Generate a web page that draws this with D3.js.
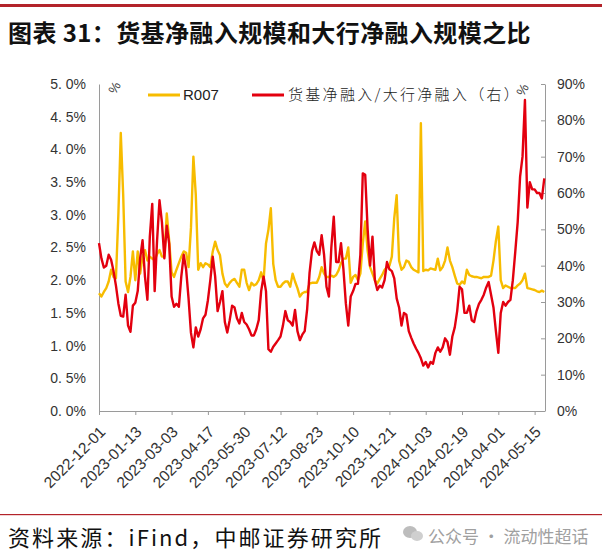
<!DOCTYPE html>
<html><head><meta charset="utf-8">
<script src="https://cdn.jsdelivr.net/npm/d3@7"></script>
<style>
html,body{margin:0;padding:0;background:#fff;}
svg{display:block;}
</style></head>
<body>
<script>
// ---- data (one value every 2 trading days, 2022-12-01 .. 2024-05-28) ----
const tickLabels = ["2022-12-01","2023-01-13","2023-03-03","2023-04-17","2023-05-30","2023-07-12","2023-08-23","2023-10-10","2023-11-21","2024-01-03","2024-02-19","2024-04-01","2024-05-15"];
const tickStep = 15; // index distance between labelled dates
const r007 = [1.80,1.75,1.82,1.88,1.98,2.16,2.05,2.03,3.00,4.25,3.30,1.98,1.82,2.05,2.44,2.00,2.44,2.10,2.36,2.46,
2.30,2.36,2.33,2.31,2.40,2.46,2.36,2.36,3.02,2.60,2.12,2.05,2.16,2.26,2.36,2.44,2.42,2.20,2.80,3.89,
3.30,2.16,2.26,2.20,2.26,2.24,2.20,2.44,2.59,2.46,2.38,2.10,1.95,1.90,1.96,2.00,2.02,1.96,1.90,2.16,
2.16,1.96,1.85,1.96,1.92,1.94,2.00,2.12,1.98,2.56,2.77,3.10,2.25,2.00,1.90,1.90,1.95,1.98,1.98,1.90,
2.10,1.98,1.88,1.75,1.80,1.82,1.82,1.95,1.96,1.96,1.96,2.05,2.20,2.10,2.05,2.05,2.07,2.05,2.08,2.15,
2.26,2.33,2.33,2.50,1.96,2.05,2.08,2.00,2.10,2.56,2.90,2.45,2.20,2.10,2.00,1.95,2.02,2.08,2.16,2.20,
2.22,2.36,2.95,3.30,2.30,2.16,2.20,2.30,2.28,2.20,2.16,2.14,2.12,4.40,2.14,2.16,2.15,2.18,2.17,2.16,
2.33,2.15,2.20,2.30,2.50,2.30,2.20,2.07,1.95,1.93,1.98,1.95,2.16,2.08,2.06,2.05,2.05,2.04,2.03,2.05,
2.05,2.05,2.07,2.30,2.60,2.82,2.00,1.88,1.92,1.90,1.88,1.88,1.88,1.92,1.95,2.00,2.10,1.88,1.87,1.86,
1.85,1.83,1.82,1.84,1.82];
const ratio = [46.2,42.0,39.5,40.0,43.0,41.6,38.5,34.5,29.6,26.2,26.0,32.0,23.5,21.8,29.0,29.8,33.0,42.0,47.0,37.0,
30.6,48.0,57.0,33.0,47.0,58.0,52.0,42.0,51.0,46.0,31.5,28.7,29.5,28.7,37.0,43.0,39.0,31.0,21.5,17.5,
23.0,20.5,22.5,25.5,26.5,30.5,36.0,42.5,37.0,27.5,30.0,33.0,24.5,21.6,25.0,29.0,28.5,25.5,24.1,27.0,
24.5,23.8,22.5,20.8,20.8,22.5,25.0,33.0,37.0,33.0,17.0,16.3,17.7,18.6,19.5,20.5,23.5,27.5,25.0,24.5,
23.5,27.8,22.0,19.5,21.0,22.0,28.0,38.0,44.0,46.4,44.0,43.0,48.4,43.0,34.2,31.5,45.0,53.5,41.0,41.0,
46.2,39.0,29.6,23.5,31.5,33.0,35.0,35.0,43.0,65.4,65.0,50.0,40.0,48.0,36.0,33.3,34.5,34.0,36.0,41.0,
39.0,38.5,36.5,31.0,28.5,23.5,27.0,26.5,22.0,20.2,18.6,17.2,16.0,14.5,12.5,13.5,12.0,13.5,13.0,16.0,
17.5,16.3,17.5,20.0,19.0,15.5,20.5,23.0,27.5,34.2,33.5,27.0,27.0,29.0,25.0,24.5,27.5,29.5,30.6,32.0,
34.0,35.5,32.0,28.5,22.0,16.0,27.0,30.0,29.0,30.0,30.6,36.0,43.8,52.0,64.5,70.0,85.6,56.0,63.0,61.0,
61.0,60.0,60.0,58.5,64.0];
const leftTicks = [0,0.5,1,1.5,2,2.5,3,3.5,4,4.5,5];
const rightTicks = [0,10,20,30,40,50,60,70,80,90];
const seriesNames = ["R007","货基净融入/大行净融入（右）"];
const title = "图表 31：货基净融入规模和大行净融入规模之比";
const source = "资料来源：iFind，中邮证券研究所";
const watermark = "公众号 · 流动性超话";

// ---- layout ----
const W = 602, H = 559;
const L = 99, R = 545, T = 84, B = 411;
const YELLOW = "#F7BC00", RED = "#E3000F", AXIS = "#9a9a9a", TXT = "#333";

const svg = d3.select("body").append("svg").attr("width", W).attr("height", H)
  .style("font-family", "Arial, 'Liberation Sans', sans-serif");
svg.append("rect").attr("width", W).attr("height", H).attr("fill", "#fff");

// header / footer rules
svg.append("rect").attr("x", 0).attr("y", 4).attr("width", W).attr("height", 3).attr("fill", "#B3232A");
svg.append("rect").attr("x", 0).attr("y", 514).attr("width", W).attr("height", 1.2).attr("fill", "#B3232A");

svg.append("text").attr("x", 8).attr("y", 42).text(title)
  .attr("font-family", "'Noto Sans CJK SC'").attr("font-weight", 700)
  .attr("font-size", 24).attr("letter-spacing", 0.4).attr("fill", "#111");

svg.append("text").attr("x", 8).attr("y", 546).text(source)
  .attr("font-family", "'Noto Sans CJK SC'").attr("font-size", 22).attr("letter-spacing", 2.1).attr("fill", "#111");

// watermark
const wm = svg.append("g").attr("transform", "translate(410,538)");
wm.append("ellipse").attr("cx", 0).attr("cy", -6).attr("rx", 7).attr("ry", 6).attr("fill", "#bdbdbd");
wm.append("ellipse").attr("cx", 7).attr("cy", -2).attr("rx", 6).attr("ry", 5).attr("fill", "#cfcfcf");
wm.append("text").attr("x", 18).attr("y", 5).text(watermark)
  .attr("font-family", "'Noto Sans CJK SC'").attr("font-size", 17).attr("fill", "#a0a0a0");

// scales
const n = r007.length;
const x = d3.scaleLinear().domain([0, n - 1]).range([L, R - 0.7]);
const yL = d3.scaleLinear().domain([0, 5]).range([B, T]);
const yR = d3.scaleLinear().domain([0, 90]).range([B, T]);

// left axis
const gl = svg.append("g").attr("transform", `translate(${L},0)`)
  .call(d3.axisLeft(yL).tickValues(leftTicks).tickSize(0).tickPadding(13)
    .tickFormat(d => d.toFixed(1).replace(".", ". ") + "%"));
gl.select(".domain").attr("stroke", AXIS);
gl.selectAll("text").attr("font-size", 14).attr("fill", TXT).attr("font-family", "Arial, 'Liberation Sans'");

// right axis
const gr = svg.append("g").attr("transform", `translate(${R},0)`)
  .call(d3.axisRight(yR).tickValues(rightTicks).tickSizeInner(-4).tickSizeOuter(0).tickPadding(12)
    .tickFormat(d => d + "%"));
gr.select(".domain").attr("stroke", AXIS);
gr.selectAll("line").attr("stroke", AXIS);
gr.selectAll("text").attr("font-size", 14).attr("fill", TXT).attr("font-family", "Arial, 'Liberation Sans'");

// bottom axis
const tickIdx = tickLabels.map((_, i) => i * tickStep);
const gb = svg.append("g").attr("transform", `translate(0,${B})`)
  .call(d3.axisBottom(x).tickValues(tickIdx).tickSizeInner(4).tickSizeOuter(0)
    .tickFormat((d, i) => tickLabels[i]));
gb.select(".domain").attr("stroke", AXIS).attr("d", `M${L},0.5H${R}`);
gb.selectAll("line").attr("stroke", AXIS);
gb.selectAll("text").attr("font-size", 15.5).attr("fill", TXT)
  .attr("text-anchor", "end").attr("dy", "0.35em").attr("y", 0)
  .attr("transform", "translate(3,18) rotate(-45)");

// lines
const lineL = d3.line().x((d, i) => x(i)).y(d => yL(d));
const lineR = d3.line().x((d, i) => x(i)).y(d => yR(d));
svg.append("path").datum(r007).attr("d", lineL).attr("fill", "none")
  .attr("stroke", YELLOW).attr("stroke-width", 2.4).attr("stroke-linejoin", "round");
svg.append("path").datum(ratio).attr("d", lineR).attr("fill", "none")
  .attr("stroke", RED).attr("stroke-width", 2.4).attr("stroke-linejoin", "round");

// unit marks
svg.append("text").attr("x", 115).attr("y", 92).text("%").attr("font-size", 13).attr("fill", "#444")
  .attr("text-anchor", "middle").attr("transform", "rotate(-60,115,88)");
svg.append("text").attr("x", 523).attr("y", 94).text("%").attr("font-size", 13).attr("fill", "#444")
  .attr("text-anchor", "middle").attr("transform", "rotate(-60,523,90)");

// legend
const lg = svg.append("g");
lg.append("line").attr("x1", 148).attr("x2", 180).attr("y1", 95).attr("y2", 95).attr("stroke", YELLOW).attr("stroke-width", 3);
lg.append("text").attr("x", 183).attr("y", 100).text(seriesNames[0]).attr("font-size", 15).attr("fill", "#222");
lg.append("line").attr("x1", 252).attr("x2", 284).attr("y1", 95).attr("y2", 95).attr("stroke", RED).attr("stroke-width", 3);
lg.append("text").attr("x", 288).attr("y", 100).text(seriesNames[1]).attr("font-size", 15).attr("fill", "#222")
  .attr("font-family", "'Noto Sans CJK SC'").attr("font-weight", 300).attr("letter-spacing", 2.3);
</script>
</body></html>
